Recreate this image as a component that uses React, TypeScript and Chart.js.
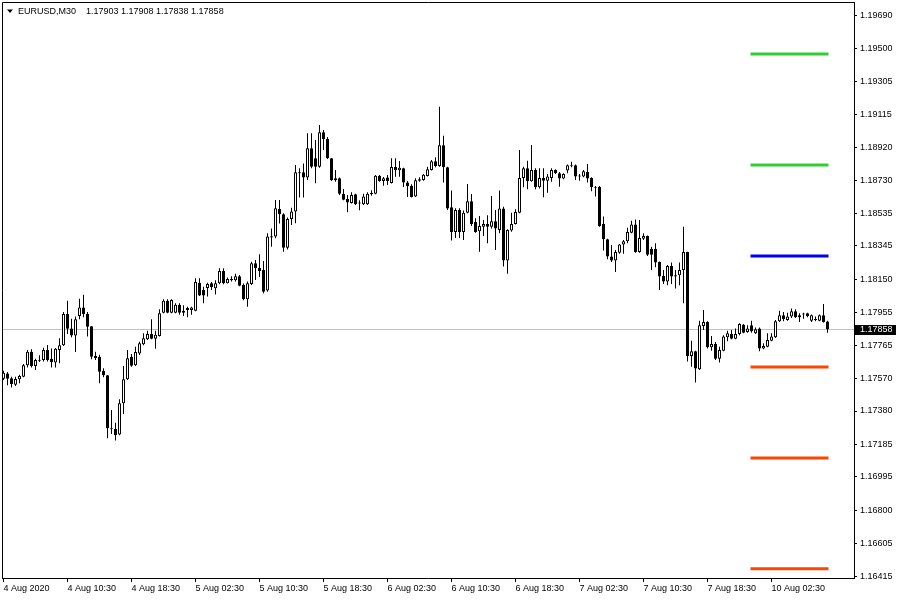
import React, { useEffect, useRef } from "react";
import { Chart, registerables } from "chart.js";

Chart.register(...registerables);

const symbolName = "EURUSD,M30";

const opens = [
  1.17569, 1.176, 1.17571, 1.17534, 1.17565, 1.17581, 1.17647, 1.17727, 1.17643, 1.17678,
  1.17678, 1.17737, 1.17686, 1.17663, 1.17737, 1.17764, 1.17947, 1.17863, 1.17822, 1.17935,
  1.17986, 1.17949, 1.17875, 1.17702, 1.17698, 1.17616, 1.17589, 1.17279, 1.17275, 1.17242,
  1.17425, 1.17565, 1.17698, 1.17647, 1.17717, 1.1777, 1.17799, 1.1783, 1.17803, 1.17819,
  1.17955, 1.18025, 1.17955, 1.17955, 1.18002, 1.17967, 1.17971, 1.17971, 1.17967, 1.1813,
  1.18088, 1.18099, 1.18127, 1.18098, 1.18127, 1.18199, 1.18127, 1.18152, 1.18144, 1.18168,
  1.18117, 1.18033, 1.18123, 1.18244, 1.18218, 1.18205, 1.18084, 1.18402, 1.184, 1.18561,
  1.1853, 1.18335, 1.18503, 1.18546, 1.18776, 1.18776, 1.18745, 1.18916, 1.18858, 1.18809,
  1.1901, 1.18971, 1.18858, 1.18729, 1.18741, 1.18651, 1.1862, 1.18597, 1.18647, 1.18597,
  1.18589, 1.18589, 1.18649, 1.18651, 1.18756, 1.18725, 1.18745, 1.18713, 1.18807, 1.18788,
  1.18799, 1.18717, 1.18698, 1.18635, 1.18727, 1.18731, 1.18755, 1.1879, 1.1884, 1.18813,
  1.18934, 1.18805, 1.18571, 1.18427, 1.18556, 1.18427, 1.1854, 1.18606, 1.18486, 1.18431,
  1.18458, 1.18474, 1.18458, 1.1849, 1.18439, 1.18564, 1.1826, 1.18435, 1.18474, 1.1854,
  1.18743, 1.188, 1.18723, 1.1879, 1.18688, 1.18743, 1.18727, 1.18743, 1.1879, 1.1877,
  1.18739, 1.18786, 1.18811, 1.18817, 1.18751, 1.18751, 1.18778, 1.18743, 1.18688, 1.18692,
  1.18474, 1.18384, 1.18283, 1.1826, 1.18306, 1.18353, 1.18373, 1.18423, 1.1847, 1.1831,
  1.18388, 1.18403, 1.18329, 1.18329, 1.18251, 1.1817, 1.18138, 1.18228, 1.18174, 1.18174,
  1.18205, 1.1831, 1.17702, 1.17729, 1.17624, 1.17877, 1.17901, 1.17753, 1.17772, 1.17686,
  1.17733, 1.17811, 1.1783, 1.17803, 1.1783, 1.17885, 1.17842, 1.17881, 1.17834, 1.17862,
  1.17745, 1.17756, 1.17791, 1.17811, 1.17905, 1.1794, 1.17912, 1.17932, 1.17963, 1.17928,
  1.17944, 1.17951, 1.17908, 1.17912, 1.17908, 1.1794, 1.17903
];

const highs = [
  1.17616, 1.17608, 1.17581, 1.17581, 1.17592, 1.17655, 1.17737, 1.17741, 1.17686, 1.17706,
  1.1775, 1.17766, 1.17746, 1.17748, 1.17805, 1.17959, 1.18025, 1.1792, 1.17932, 1.18037,
  1.1806, 1.17959, 1.17877, 1.17727, 1.17709, 1.1763, 1.17591, 1.17386, 1.17312, 1.17448,
  1.17643, 1.17737, 1.17713, 1.17756, 1.17785, 1.17834, 1.1785, 1.17916, 1.1785, 1.17975,
  1.18033, 1.18033, 1.18033, 1.1801, 1.1801, 1.17998, 1.1799, 1.1799, 1.18156, 1.18156,
  1.18107, 1.1813, 1.18134, 1.18144, 1.18215, 1.18215, 1.1816, 1.18168, 1.18183, 1.18176,
  1.18125, 1.18137, 1.18253, 1.18263, 1.18296, 1.18257, 1.18419, 1.18448, 1.18614, 1.18614,
  1.18536, 1.18511, 1.18569, 1.18819, 1.18799, 1.18828, 1.19004, 1.19004, 1.18965, 1.19053,
  1.19023, 1.18982, 1.1886, 1.18789, 1.18745, 1.18678, 1.18643, 1.18659, 1.18651, 1.18612,
  1.18651, 1.18659, 1.18671, 1.1876, 1.1876, 1.18749, 1.1876, 1.18858, 1.18858, 1.18842,
  1.18803, 1.18725, 1.18706, 1.18741, 1.18747, 1.18766, 1.18809, 1.18848, 1.18864, 1.1916,
  1.18989, 1.18809, 1.18669, 1.18566, 1.18566, 1.18552, 1.18708, 1.18649, 1.18507, 1.18521,
  1.18497, 1.18525, 1.18638, 1.18556, 1.18669, 1.18575, 1.18443, 1.1854, 1.1856, 1.18907,
  1.18809, 1.18844, 1.18936, 1.188, 1.188, 1.188, 1.18766, 1.188, 1.18794, 1.18778,
  1.1877, 1.18821, 1.18837, 1.18821, 1.18766, 1.1879, 1.18825, 1.18747, 1.18696, 1.18696,
  1.18517, 1.18388, 1.18351, 1.18322, 1.18357, 1.1838, 1.18451, 1.18493, 1.185, 1.18497,
  1.18419, 1.18407, 1.18341, 1.18361, 1.18255, 1.18205, 1.18234, 1.18248, 1.18205, 1.18248,
  1.18458, 1.18312, 1.17791, 1.17733, 1.17908, 1.17971, 1.17905, 1.17819, 1.17784, 1.17756,
  1.17823, 1.1785, 1.17854, 1.17862, 1.17893, 1.17889, 1.17881, 1.17908, 1.17869, 1.17869,
  1.17776, 1.17834, 1.17834, 1.17912, 1.17967, 1.17959, 1.17955, 1.17979, 1.17975, 1.17951,
  1.17955, 1.17955, 1.17944, 1.17932, 1.17944, 1.18006, 1.17908
];

const lows = [
  1.17561, 1.1753, 1.17518, 1.17526, 1.17542, 1.17577, 1.17635, 1.17635, 1.1762, 1.17667,
  1.1767, 1.1767, 1.17635, 1.17635, 1.17659, 1.1776, 1.1783, 1.17811, 1.17725, 1.17916,
  1.17928, 1.17815, 1.17682, 1.17678, 1.17542, 1.17577, 1.1722, 1.17246, 1.17207, 1.17238,
  1.17362, 1.17561, 1.17639, 1.17643, 1.17708, 1.17764, 1.17795, 1.17799, 1.17744, 1.17815,
  1.17951, 1.17951, 1.17951, 1.17951, 1.17943, 1.17935, 1.17928, 1.17943, 1.17963, 1.18052,
  1.1801, 1.18049, 1.18088, 1.18062, 1.18121, 1.18121, 1.18125, 1.18137, 1.18137, 1.18109,
  1.18027, 1.1799, 1.18117, 1.18146, 1.18164, 1.18068, 1.18078, 1.18341, 1.1839, 1.18476,
  1.18312, 1.18324, 1.18468, 1.18478, 1.18628, 1.18628, 1.18731, 1.18799, 1.18712, 1.18803,
  1.18906, 1.18854, 1.18725, 1.18721, 1.18643, 1.18612, 1.18542, 1.18593, 1.18585, 1.18554,
  1.18585, 1.18585, 1.18639, 1.18647, 1.18721, 1.18698, 1.18702, 1.1871, 1.1875, 1.1875,
  1.1869, 1.18632, 1.18628, 1.18632, 1.1872, 1.18727, 1.18751, 1.18786, 1.18805, 1.18809,
  1.18716, 1.18556, 1.18377, 1.18392, 1.18392, 1.1838, 1.18536, 1.18462, 1.18423, 1.18312,
  1.18404, 1.18361, 1.18447, 1.18322, 1.18419, 1.18225, 1.18182, 1.18429, 1.1847, 1.18536,
  1.18688, 1.18677, 1.1872, 1.18677, 1.18681, 1.1863, 1.18657, 1.1872, 1.18766, 1.18692,
  1.18735, 1.1877, 1.18805, 1.18731, 1.18727, 1.18747, 1.18716, 1.18665, 1.18634, 1.18458,
  1.18318, 1.18267, 1.18252, 1.18193, 1.18299, 1.18299, 1.18361, 1.18419, 1.18306, 1.18306,
  1.1838, 1.18287, 1.18205, 1.1822, 1.18088, 1.18123, 1.18115, 1.18123, 1.18096, 1.18115,
  1.1801, 1.17669, 1.17639, 1.17546, 1.1762, 1.17854, 1.17745, 1.17733, 1.17678, 1.17663,
  1.17729, 1.17788, 1.17799, 1.17799, 1.17823, 1.17834, 1.17838, 1.17838, 1.1783, 1.17729,
  1.17741, 1.17753, 1.17788, 1.17807, 1.17901, 1.17905, 1.17908, 1.17924, 1.17924, 1.17901,
  1.1792, 1.17928, 1.17901, 1.17905, 1.17905, 1.17897, 1.17838
];

const closes = [
  1.17604, 1.17569, 1.17538, 1.17567, 1.17585, 1.17647, 1.17727, 1.17643, 1.17678, 1.17674,
  1.17737, 1.17678, 1.17667, 1.17744, 1.17764, 1.17947, 1.17861, 1.17822, 1.17916, 1.17986,
  1.17947, 1.17873, 1.17698, 1.1769, 1.1761, 1.17589, 1.17279, 1.17273, 1.17238, 1.17425,
  1.17565, 1.17688, 1.17645, 1.17725, 1.17776, 1.17805, 1.1783, 1.17803, 1.17826, 1.17951,
  1.18025, 1.17955, 1.18029, 1.18002, 1.17955, 1.17955, 1.17982, 1.17986, 1.18134, 1.18056,
  1.18056, 1.18123, 1.18103, 1.18127, 1.18199, 1.18127, 1.18152, 1.18144, 1.18168, 1.18113,
  1.18033, 1.18127, 1.18244, 1.18215, 1.18199, 1.18078, 1.184, 1.18394, 1.18565, 1.1853,
  1.18335, 1.18503, 1.18546, 1.18776, 1.1877, 1.18745, 1.18916, 1.18809, 1.18809, 1.1901,
  1.18971, 1.18858, 1.18729, 1.18741, 1.18651, 1.18616, 1.186, 1.18643, 1.18589, 1.18593,
  1.18635, 1.18651, 1.18655, 1.18756, 1.18725, 1.18741, 1.18725, 1.18807, 1.18788, 1.18803,
  1.18717, 1.18694, 1.18632, 1.18729, 1.18735, 1.18761, 1.18794, 1.1884, 1.18813, 1.18934,
  1.18805, 1.18564, 1.18427, 1.18556, 1.18427, 1.1854, 1.18606, 1.18474, 1.18427, 1.18462,
  1.18474, 1.18458, 1.1849, 1.18447, 1.18564, 1.1826, 1.18439, 1.18474, 1.18544, 1.18743,
  1.188, 1.18723, 1.1879, 1.18688, 1.18743, 1.18727, 1.18751, 1.1879, 1.1877, 1.18739,
  1.18766, 1.18817, 1.18817, 1.18751, 1.18755, 1.18782, 1.18739, 1.18688, 1.18685, 1.18462,
  1.18384, 1.18283, 1.1826, 1.1831, 1.18353, 1.18373, 1.18427, 1.1847, 1.1831, 1.18392,
  1.18403, 1.18294, 1.18294, 1.18248, 1.18166, 1.18138, 1.18228, 1.18166, 1.18166, 1.18205,
  1.1831, 1.17702, 1.17729, 1.17628, 1.17881, 1.17901, 1.17753, 1.17772, 1.17686, 1.17737,
  1.17815, 1.17834, 1.17803, 1.1783, 1.17889, 1.17838, 1.17862, 1.17846, 1.17858, 1.17745,
  1.1776, 1.17795, 1.17815, 1.17905, 1.1794, 1.17916, 1.17932, 1.17963, 1.17928, 1.1794,
  1.17947, 1.17936, 1.1794, 1.17916, 1.1794, 1.17901, 1.17858
];

const timeTickIndex = [0, 16, 32, 48, 64, 80, 96, 112, 128, 144, 160, 176, 192];
const timeTickLabels = [
  "4 Aug 2020", "4 Aug 10:30", "4 Aug 18:30", "5 Aug 02:30", "5 Aug 10:30",
  "5 Aug 18:30", "6 Aug 02:30", "6 Aug 10:30", "6 Aug 18:30", "7 Aug 02:30",
  "7 Aug 10:30", "7 Aug 18:30", "10 Aug 02:30"
];

const priceTicks = [
  1.1969, 1.195, 1.19305, 1.19115, 1.1892, 1.1873, 1.18535, 1.18345, 1.1815,
  1.17955, 1.17765, 1.1757, 1.1738, 1.17185, 1.16995, 1.168, 1.16605, 1.16415
];

const levelPrices = [1.19468, 1.18819, 1.18287, 1.17637, 1.17105, 1.16458];
const levelColors = ["#32CD32", "#32CD32", "#0000FF", "#FF4500", "#FF4500", "#FF4500"];
const levelFromBar = 186.75;
const levelToBar = 206.25;

const priceMin = 1.164034;
const priceMax = 1.19766;
const barMin = -0.375;
const barMax = 212.625;

const FONT = '"Liberation Sans", Arial, sans-serif';

export default function App() {
  const ref = useRef<HTMLCanvasElement | null>(null);

  useEffect(() => {
    const canvas = ref.current;
    if (!canvas) return;
    const idx = closes.map((_, i) => i);
    const last = closes.length - 1;

    const wickData = idx.map((i) => ({ x: i, y: [lows[i], highs[i]] }));
    const bodyData = idx.map((i) => ({
      x: i,
      y: [Math.min(opens[i], closes[i]), Math.max(opens[i], closes[i])],
    }));
    const bodyFill = idx.map((i) => (closes[i] >= opens[i] ? "#ffffff" : "#000000"));

    const levelSets = levelPrices.map((p, k) => ({
      type: "line" as const,
      data: [
        { x: levelFromBar, y: p },
        { x: levelToBar, y: p },
      ],
      borderColor: levelColors[k],
      backgroundColor: levelColors[k],
      borderWidth: 3,
      pointRadius: 0,
      borderCapStyle: "butt",
      order: 3,
    }));

    const framePlugin = {
      id: "mtFrame",
      beforeDatasetsDraw(chart: any) {
        const { ctx, chartArea } = chart;
        const y = Math.round(chart.scales.y.getPixelForValue(closes[last])) + 0.5;
        ctx.save();
        ctx.strokeStyle = "#c0c0c0";
        ctx.lineWidth = 1;
        ctx.beginPath();
        ctx.moveTo(chartArea.left, y);
        ctx.lineTo(chartArea.right, y);
        ctx.stroke();
        ctx.restore();
      },
      afterDraw(chart: any) {
        const { ctx, chartArea } = chart;
        ctx.save();
        // frame top & left
        ctx.strokeStyle = "#000";
        ctx.lineWidth = 1;
        ctx.beginPath();
        ctx.moveTo(chartArea.left + 0.5, chartArea.bottom);
        ctx.lineTo(chartArea.left + 0.5, chartArea.top - 0.5);
        ctx.lineTo(chartArea.right + 1, chartArea.top - 0.5);
        ctx.stroke();

        // current price label
        const y = Math.round(chart.scales.y.getPixelForValue(closes[last]));
        ctx.fillStyle = "#000";
        ctx.fillRect(chartArea.right + 1, y - 4, 41, 10);
        ctx.fillStyle = "#fff";
        ctx.font = `9px ${FONT}`;
        ctx.textBaseline = "middle";
        ctx.textAlign = "left";
        ctx.fillText(closes[last].toFixed(5), chartArea.right + 6, y + 1);

        // title
        ctx.fillStyle = "#000";
        ctx.beginPath();
        ctx.moveTo(7, 9.5);
        ctx.lineTo(13, 9.5);
        ctx.lineTo(10, 13);
        ctx.closePath();
        ctx.fill();
        ctx.font = `9px ${FONT}`;
        ctx.textBaseline = "middle";
        const vals = [opens[last], highs[last], lows[last], closes[last]]
          .map((v) => v.toFixed(5))
          .join(" ");
        ctx.fillText(symbolName, 18, 11.5);
        ctx.fillText(vals, 86, 11.5);
        ctx.restore();
      },
    };

    const chart = new Chart(canvas, {
      type: "bar",
      data: {
        datasets: [
          {
            type: "bar",
            data: bodyData as any,
            backgroundColor: bodyFill,
            borderColor: "#000000",
            borderWidth: 1,
            borderSkipped: false,
            inflateAmount: 0,
            barThickness: 3,
            minBarLength: 1,
            grouped: false,
            order: 0,
          } as any,
          {
            type: "bar",
            data: wickData as any,
            backgroundColor: "#000000",
            borderWidth: 0,
            inflateAmount: 0,
            barThickness: 1,
            grouped: false,
            order: 1,
          } as any,
          ...(levelSets as any[]),
        ],
      },
      options: {
        animation: false,
        responsive: false,
        devicePixelRatio: 1,
        events: [],
        layout: { padding: { top: 3, left: 2, right: 0, bottom: 0 } },
        plugins: {
          legend: { display: false },
          tooltip: { enabled: false },
          title: { display: false },
        },
        scales: {
          x: {
            type: "linear",
            position: "bottom",
            min: barMin,
            max: barMax,
            offset: false,
            afterBuildTicks(scale: any) {
              scale.ticks = timeTickIndex.map((v) => ({ value: v }));
            },
            afterFit(scale: any) {
              scale.height = 22;
              scale.paddingLeft = 0;
              scale.paddingRight = 0;
            },
            grid: {
              display: true,
              drawOnChartArea: false,
              drawTicks: true,
              tickLength: 4,
              tickColor: "#000",
              offset: false,
            },
            border: { display: true, color: "#000", width: 1 },
            ticks: {
              autoSkip: false,
              maxRotation: 0,
              minRotation: 0,
              align: "start",
              padding: 1,
              color: "#000",
              font: { family: FONT, size: 9 },
              callback: (v: any) => {
                const k = timeTickIndex.indexOf(Number(v));
                return k >= 0 ? timeTickLabels[k] : null;
              },
            },
          },
          y: {
            type: "linear",
            position: "right",
            min: priceMin,
            max: priceMax,
            afterBuildTicks(scale: any) {
              scale.ticks = priceTicks.map((v) => ({ value: v }));
            },
            afterFit(scale: any) {
              scale.width = 46;
              scale.paddingTop = 0;
              scale.paddingBottom = 0;
            },
            grid: {
              display: true,
              drawOnChartArea: false,
              drawTicks: true,
              tickLength: 3,
              tickColor: "#000",
            },
            border: { display: true, color: "#000", width: 1 },
            ticks: {
              autoSkip: false,
              padding: 3,
              color: "#000",
              font: { family: FONT, size: 9 },
              callback: (v: any) => Number(v).toFixed(5),
            },
          },
        },
      } as any,
      plugins: [framePlugin],
    });

    return () => chart.destroy();
  }, []);

  return (
    <div style={{ position: "absolute", left: 0, top: 0, width: 900, height: 600, background: "#fff" }}>
      <canvas ref={ref} width={900} height={600} style={{ display: "block", width: 900, height: 600 }} />
    </div>
  );
}
